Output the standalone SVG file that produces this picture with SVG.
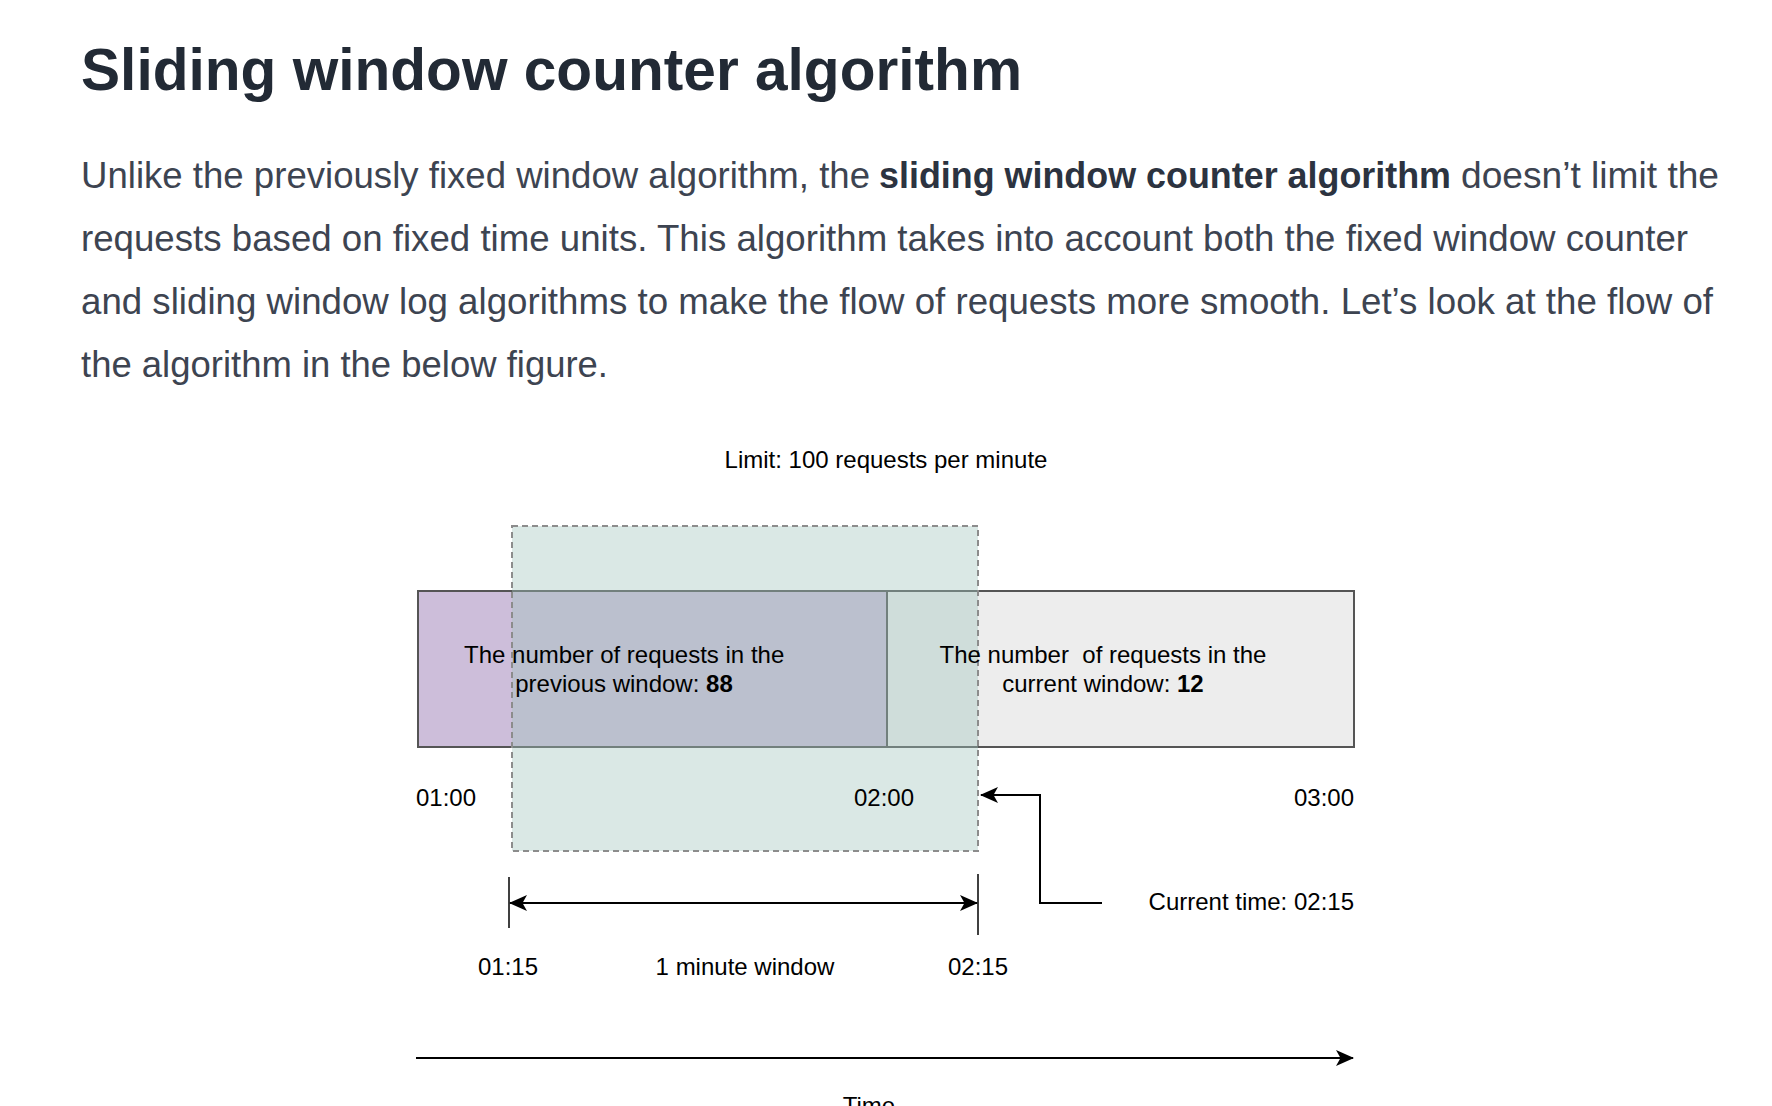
<svg xmlns="http://www.w3.org/2000/svg" width="1772" height="1106" viewBox="0 0 1772 1106">
  <style>
    .title { font-family: "Liberation Sans", Arial, sans-serif; font-weight: bold; font-size: 59px; fill: #222a35; }
    .para { font-family: "Liberation Sans", Arial, sans-serif; font-size: 36.5px; fill: #3d4451; }
    .para .b { font-weight: bold; fill: #2c3340; }
    .lbl { font-family: "Liberation Sans", Arial, sans-serif; font-size: 24px; fill: #000000; }
    .lbl .b { font-weight: bold; }
    .box { stroke: #555555; stroke-width: 2; }
    .win { fill: rgb(160,196,188); fill-opacity: 0.39; stroke: #8c8c8c; stroke-width: 2; stroke-dasharray: 6 4; }
    .conn { fill: none; stroke: #000000; stroke-width: 2; }
    .tick { stroke: #000000; stroke-width: 1.5; }
  </style>
  <defs>
    <marker id="arrow" viewBox="0 0 18 16" markerWidth="18" markerHeight="16" refX="17" refY="8" orient="auto-start-reverse" markerUnits="userSpaceOnUse">
      <path d="M0,0 L18,8 L0,16 L4.5,8 z" fill="#000000"/>
    </marker>
  </defs>
  <rect x="0" y="0" width="1772" height="1106" fill="#ffffff"/>

  <g id="heading">
    <text class="title" x="81" y="90" textLength="941" lengthAdjust="spacingAndGlyphs">Sliding window counter algorithm</text>
  </g>

  <g id="paragraph">
    <text class="para" y="188">
      <tspan x="81" textLength="789" lengthAdjust="spacingAndGlyphs">Unlike the previously fixed window algorithm, the</tspan>
      <tspan class="b" x="879" textLength="572" lengthAdjust="spacingAndGlyphs">sliding window counter algorithm</tspan>
      <tspan x="1461" textLength="258" lengthAdjust="spacingAndGlyphs">doesn’t limit the</tspan>
    </text>
    <text class="para" x="81" y="251" textLength="1607" lengthAdjust="spacingAndGlyphs">requests based on fixed time units. This algorithm takes into account both the fixed window counter</text>
    <text class="para" x="81" y="314" textLength="1632" lengthAdjust="spacingAndGlyphs">and sliding window log algorithms to make the flow of requests more smooth. Let’s look at the flow of</text>
    <text class="para" x="81" y="377" textLength="527" lengthAdjust="spacingAndGlyphs">the algorithm in the below figure.</text>
  </g>

  <g id="limit-label">
    <text class="lbl" x="886" y="468" text-anchor="middle">Limit: 100 requests per minute</text>
  </g>

  <g id="previous-window">
    <rect class="box" x="418" y="591" width="469" height="156" fill="#cdbeda"/>
  </g>
  <g id="current-window">
    <rect class="box" x="887" y="591" width="467" height="156" fill="#ededed"/>
  </g>

  <g id="sliding-window">
    <rect class="win" x="512" y="526" width="466" height="325"/>
  </g>

  <g id="previous-window-label">
    <text class="lbl" text-anchor="middle">
      <tspan x="627.5" y="663">The number of requests in the</tspan>
      <tspan x="624" y="692">previous window: <tspan class="b">88</tspan></tspan>
    </text>
  </g>
  <g id="current-window-label">
    <text class="lbl" text-anchor="middle" xml:space="preserve"><tspan x="1103" y="663">The number  of requests in the</tspan><tspan x="1103" y="692">current window: <tspan class="b">12</tspan></tspan></text>
  </g>

  <g id="time-labels">
    <text class="lbl" x="446" y="806" text-anchor="middle">01:00</text>
    <text class="lbl" x="884" y="806" text-anchor="middle">02:00</text>
    <text class="lbl" x="1354" y="806" text-anchor="end">03:00</text>
    <text class="lbl" x="508" y="975" text-anchor="middle">01:15</text>
    <text class="lbl" x="745" y="975" text-anchor="middle">1 minute window</text>
    <text class="lbl" x="978" y="975" text-anchor="middle">02:15</text>
  </g>

  <g id="current-time-label">
    <text class="lbl" x="1354" y="910" text-anchor="end">Current time: 02:15</text>
  </g>

  <g id="connectors">
    <line class="tick" x1="509" y1="877" x2="509" y2="928"/>
    <line class="tick" x1="978" y1="874" x2="978" y2="935"/>
    <line class="conn" x1="510" y1="903" x2="977" y2="903" marker-start="url(#arrow)" marker-end="url(#arrow)"/>
    <polyline class="conn" points="1102,903 1040,903 1040,795 981,795" marker-end="url(#arrow)"/>
    <line class="conn" x1="416" y1="1058" x2="1353" y2="1058" marker-end="url(#arrow)"/>
  </g>

  <g id="axis-label">
    <text class="lbl" x="869" y="1114" text-anchor="middle">Time</text>
  </g>
</svg>
